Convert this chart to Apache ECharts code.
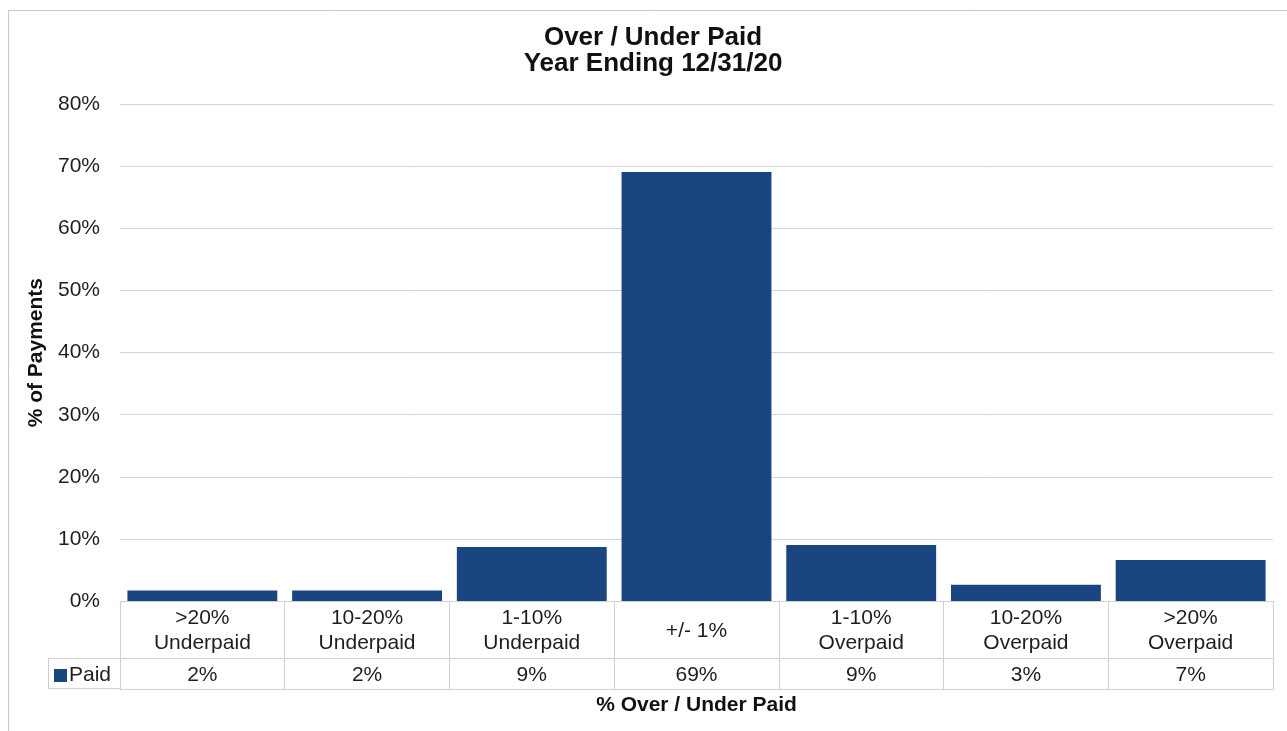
<!DOCTYPE html>
<html>
<head>
<meta charset="utf-8">
<script src="https://cdn.jsdelivr.net/npm/echarts@6/dist/echarts.min.js"></script>
<style>
html,body{margin:0;padding:0;background:#fff;}
#chart{width:1287px;height:731px;}
</style>
</head>
<body>
<div id="chart"></div>
<script>
// ---- data ----
var categories = ['>20%\nUnderpaid', '10-20%\nUnderpaid', '1-10%\nUnderpaid', '+/- 1%', '1-10%\nOverpaid', '10-20%\nOverpaid', '>20%\nOverpaid'];
var paidValues = [1.7, 1.7, 8.7, 69.1, 9.0, 2.6, 6.6];
var seriesName = 'Paid';
var yTicks = [0, 10, 20, 30, 40, 50, 60, 70, 80];
var titleText = 'Over / Under Paid\nYear Ending 12/31/20';
var yName = '% of Payments';
var xName = '% Over / Under Paid';

var FONT = '"Liberation Sans", Arial, Helvetica, sans-serif';
var TXT = '#1e1e1e';
var LINE = '#d0d0d0';
var tableLabels = paidValues.map(function (v) { return Math.round(v) + '%'; });

var chart = echarts.init(document.getElementById('chart'), null, {renderer: 'canvas'});
chart.setOption({
  backgroundColor: '#ffffff',
  animation: false,
  textStyle: {fontFamily: FONT},
  title: {
    text: titleText,
    left: 648,
    top: 20,
    textAlign: 'center',
    textStyle: {fontFamily: FONT, fontSize: 26, fontWeight: 'bold', color: '#111', lineHeight: 26}
  },
  legend: {
    data: [seriesName],
    left: 54,
    top: 665,
    padding: 0,
    icon: 'rect',
    itemWidth: 13,
    itemHeight: 13,
    itemGap: 4,
    selectedMode: false,
    textStyle: {fontFamily: FONT, fontSize: 21, color: TXT, padding: [0, 0, 0, -3]}
  },
  grid: {left: 120, right: 14, top: 104.3, bottom: 130, containLabel: false, outerBoundsMode: 'none'},
  xAxis: [
    {
      type: 'category',
      data: categories,
      position: 'bottom',
      axisLine: {show: true, lineStyle: {color: LINE, width: 1}},
      axisTick: {show: true, alignWithLabel: false, interval: 0, length: 88, lineStyle: {color: LINE, width: 1}},
      axisLabel: {interval: 0, margin: 30, verticalAlign: 'middle', fontFamily: FONT, fontSize: 21, lineHeight: 25, color: TXT, align: 'center'},
      splitLine: {show: false}
    },
    {
      type: 'category',
      data: categories,
      position: 'bottom',
      offset: 57,
      axisLine: {show: true, lineStyle: {color: LINE, width: 1}},
      axisTick: {show: false},
      axisLabel: {interval: 0, margin: 7, fontFamily: FONT, fontSize: 21, color: TXT,
        formatter: function (v, i) { return tableLabels[i]; }},
      splitLine: {show: false}
    },
    {
      type: 'category',
      data: categories,
      position: 'bottom',
      offset: 88,
      axisLine: {show: true, lineStyle: {color: LINE, width: 1}},
      axisTick: {show: false},
      axisLabel: {show: false},
      splitLine: {show: false},
      name: xName,
      nameLocation: 'middle',
      nameGap: 6,
      nameTextStyle: {fontFamily: FONT, fontSize: 21, fontWeight: 'bold', color: '#111'}
    }
  ],
  yAxis: {
    type: 'value',
    min: yTicks[0],
    max: yTicks[yTicks.length - 1],
    interval: yTicks[1] - yTicks[0],
    axisLine: {show: false},
    axisTick: {show: false},
    axisLabel: {margin: 20, fontFamily: FONT, fontSize: 21, color: TXT, formatter: '{value}%'},
    splitLine: {show: true, lineStyle: {color: '#d4d4d4', width: 1}},
    name: yName,
    nameLocation: 'middle',
    nameGap: 72,
    nameTextStyle: {fontFamily: FONT, fontSize: 21, fontWeight: 'bold', color: '#111'}
  },
  series: [{
    name: seriesName,
    type: 'bar',
    xAxisIndex: 0,
    data: paidValues,
    barCategoryGap: '9%',
    itemStyle: {color: '#1b4580'}
  }],
  graphic: [
    {type: 'rect', shape: {x: 8.5, y: 10.5, width: 1400, height: 900}, style: {fill: null, stroke: '#c8c8c8', lineWidth: 1}, silent: true, z: -10},
    {type: 'line', shape: {x1: 48, y1: 658.5, x2: 120, y2: 658.5}, style: {stroke: LINE, lineWidth: 1}, silent: true},
    {type: 'line', shape: {x1: 48, y1: 688.5, x2: 120, y2: 688.5}, style: {stroke: LINE, lineWidth: 1}, silent: true},
    {type: 'line', shape: {x1: 48.5, y1: 658, x2: 48.5, y2: 689}, style: {stroke: LINE, lineWidth: 1}, silent: true}
  ]
});
</script>
</body>
</html>
